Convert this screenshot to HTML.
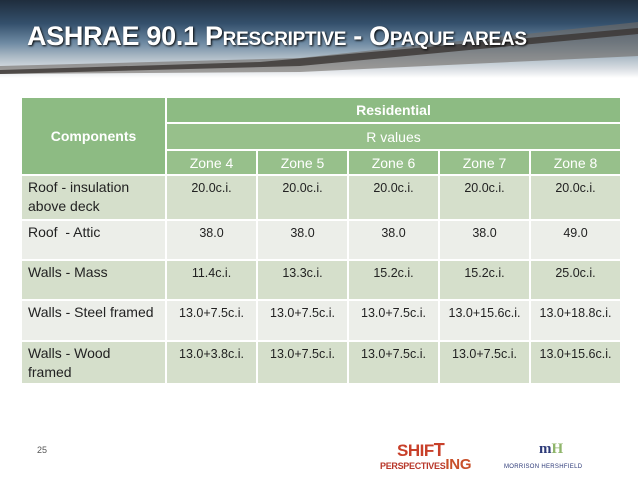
<!DOCTYPE html>
<html><head><meta charset="utf-8"><style>
body{margin:0;width:638px;height:479px;overflow:hidden;background:#fff;font-family:"Liberation Sans",sans-serif;position:relative}
#banner{position:absolute;left:0;top:0;width:638px;height:78px;background:linear-gradient(180deg,#1f2d3d 0%,#34506c 30%,#6e8aa3 55%,#a9b8c4 72%,#d8dde2 88%,#fff 100%)}
#road{position:absolute;left:0;top:0}
#title{position:absolute;left:27px;top:21px;color:#fff;font-size:27px;font-weight:bold;letter-spacing:-0.3px;font-variant:small-caps;text-shadow:1px 1px 2px #000;white-space:nowrap}
table{position:absolute;left:20px;top:96px;border-collapse:collapse;table-layout:fixed;font-family:"Liberation Sans",sans-serif;font-size:14px;color:#222}
td{border:2px solid #fff;padding:0;overflow:hidden}
.h1{background:#8dbb83;color:#fff;font-weight:bold;text-align:center}
.h2{background:#97c08b;color:#fff;text-align:center}
.h3{background:#97c08b;color:#fff;text-align:center}
.lab{padding:2px 4px 0 6px;vertical-align:top;line-height:19px;white-space:nowrap}
.val{text-align:center;vertical-align:top;padding-top:5px;font-size:12.5px}
.o td{background:#d5dfcb}.e td{background:#eceee9}
</style></head><body>
<div id="banner">
<svg id="road" width="638" height="78"><polygon points="0,74 0,66 300,58 638,22 638,56 300,72" fill="#6f6a66" opacity="0.6"/><polygon points="0,70 260,62 638,28 638,34 300,66 0,74" fill="#3a3532" opacity="0.8"/></svg>
</div>
<div id="title">ASHRAE 90.1 Prescriptive - Opaque areas</div>
<table>
<colgroup><col style="width:145px"><col style="width:91px"><col style="width:91px"><col style="width:91px"><col style="width:91px"><col style="width:91px"></colgroup>
<tr style="height:26px"><td class="h1" rowspan="3">Components</td><td class="h1" colspan="5">Residential</td></tr>
<tr style="height:27px"><td class="h2" colspan="5">R values</td></tr>
<tr style="height:25px"><td class="h3">Zone 4</td><td class="h3">Zone 5</td><td class="h3">Zone 6</td><td class="h3">Zone 7</td><td class="h3">Zone 8</td></tr>
<tr class="o" style="height:45px"><td class="lab">Roof - insulation<br>above deck</td><td class="val">20.0c.i.</td><td class="val">20.0c.i.</td><td class="val">20.0c.i.</td><td class="val">20.0c.i.</td><td class="val">20.0c.i.</td></tr>
<tr class="e" style="height:40px"><td class="lab">Roof &nbsp;- Attic</td><td class="val">38.0</td><td class="val">38.0</td><td class="val">38.0</td><td class="val">38.0</td><td class="val">49.0</td></tr>
<tr class="o" style="height:40px"><td class="lab">Walls - Mass</td><td class="val">11.4c.i.</td><td class="val">13.3c.i.</td><td class="val">15.2c.i.</td><td class="val">15.2c.i.</td><td class="val">25.0c.i.</td></tr>
<tr class="e" style="height:41px"><td class="lab">Walls - Steel framed</td><td class="val">13.0+7.5c.i.</td><td class="val">13.0+7.5c.i.</td><td class="val">13.0+7.5c.i.</td><td class="val">13.0+15.6c.i.</td><td class="val">13.0+18.8c.i.</td></tr>
<tr class="o" style="height:43px"><td class="lab">Walls - Wood<br>framed</td><td class="val">13.0+3.8c.i.</td><td class="val">13.0+7.5c.i.</td><td class="val">13.0+7.5c.i.</td><td class="val">13.0+7.5c.i.</td><td class="val">13.0+15.6c.i.</td></tr>
</table>
<div style="position:absolute;left:37px;top:445px;font-size:9px;color:#555">25</div>
<div style="position:absolute;left:393px;top:440px;font-weight:bold;color:#c8402a;font-size:17px;letter-spacing:-0.5px"><span style="margin-left:4px">SHIF</span><span style="font-size:18px">T</span></div>
<div style="position:absolute;left:380px;top:456px;font-weight:bold;color:#b8372a;font-size:9px;letter-spacing:-0.3px">PERSPECTIVES<span style="font-size:15px;color:#c8502a">ING</span></div>
<div style="position:absolute;left:539px;top:441px;font-weight:bold;color:#2d3a78;font-size:15px;font-family:'Liberation Serif',serif">m<span style="color:#8fb56a">H</span></div>
<div style="position:absolute;left:504px;top:464px;color:#2d3a78;font-size:6px;letter-spacing:0.3px">MORRISON HERSHFIELD</div>
</body></html>
